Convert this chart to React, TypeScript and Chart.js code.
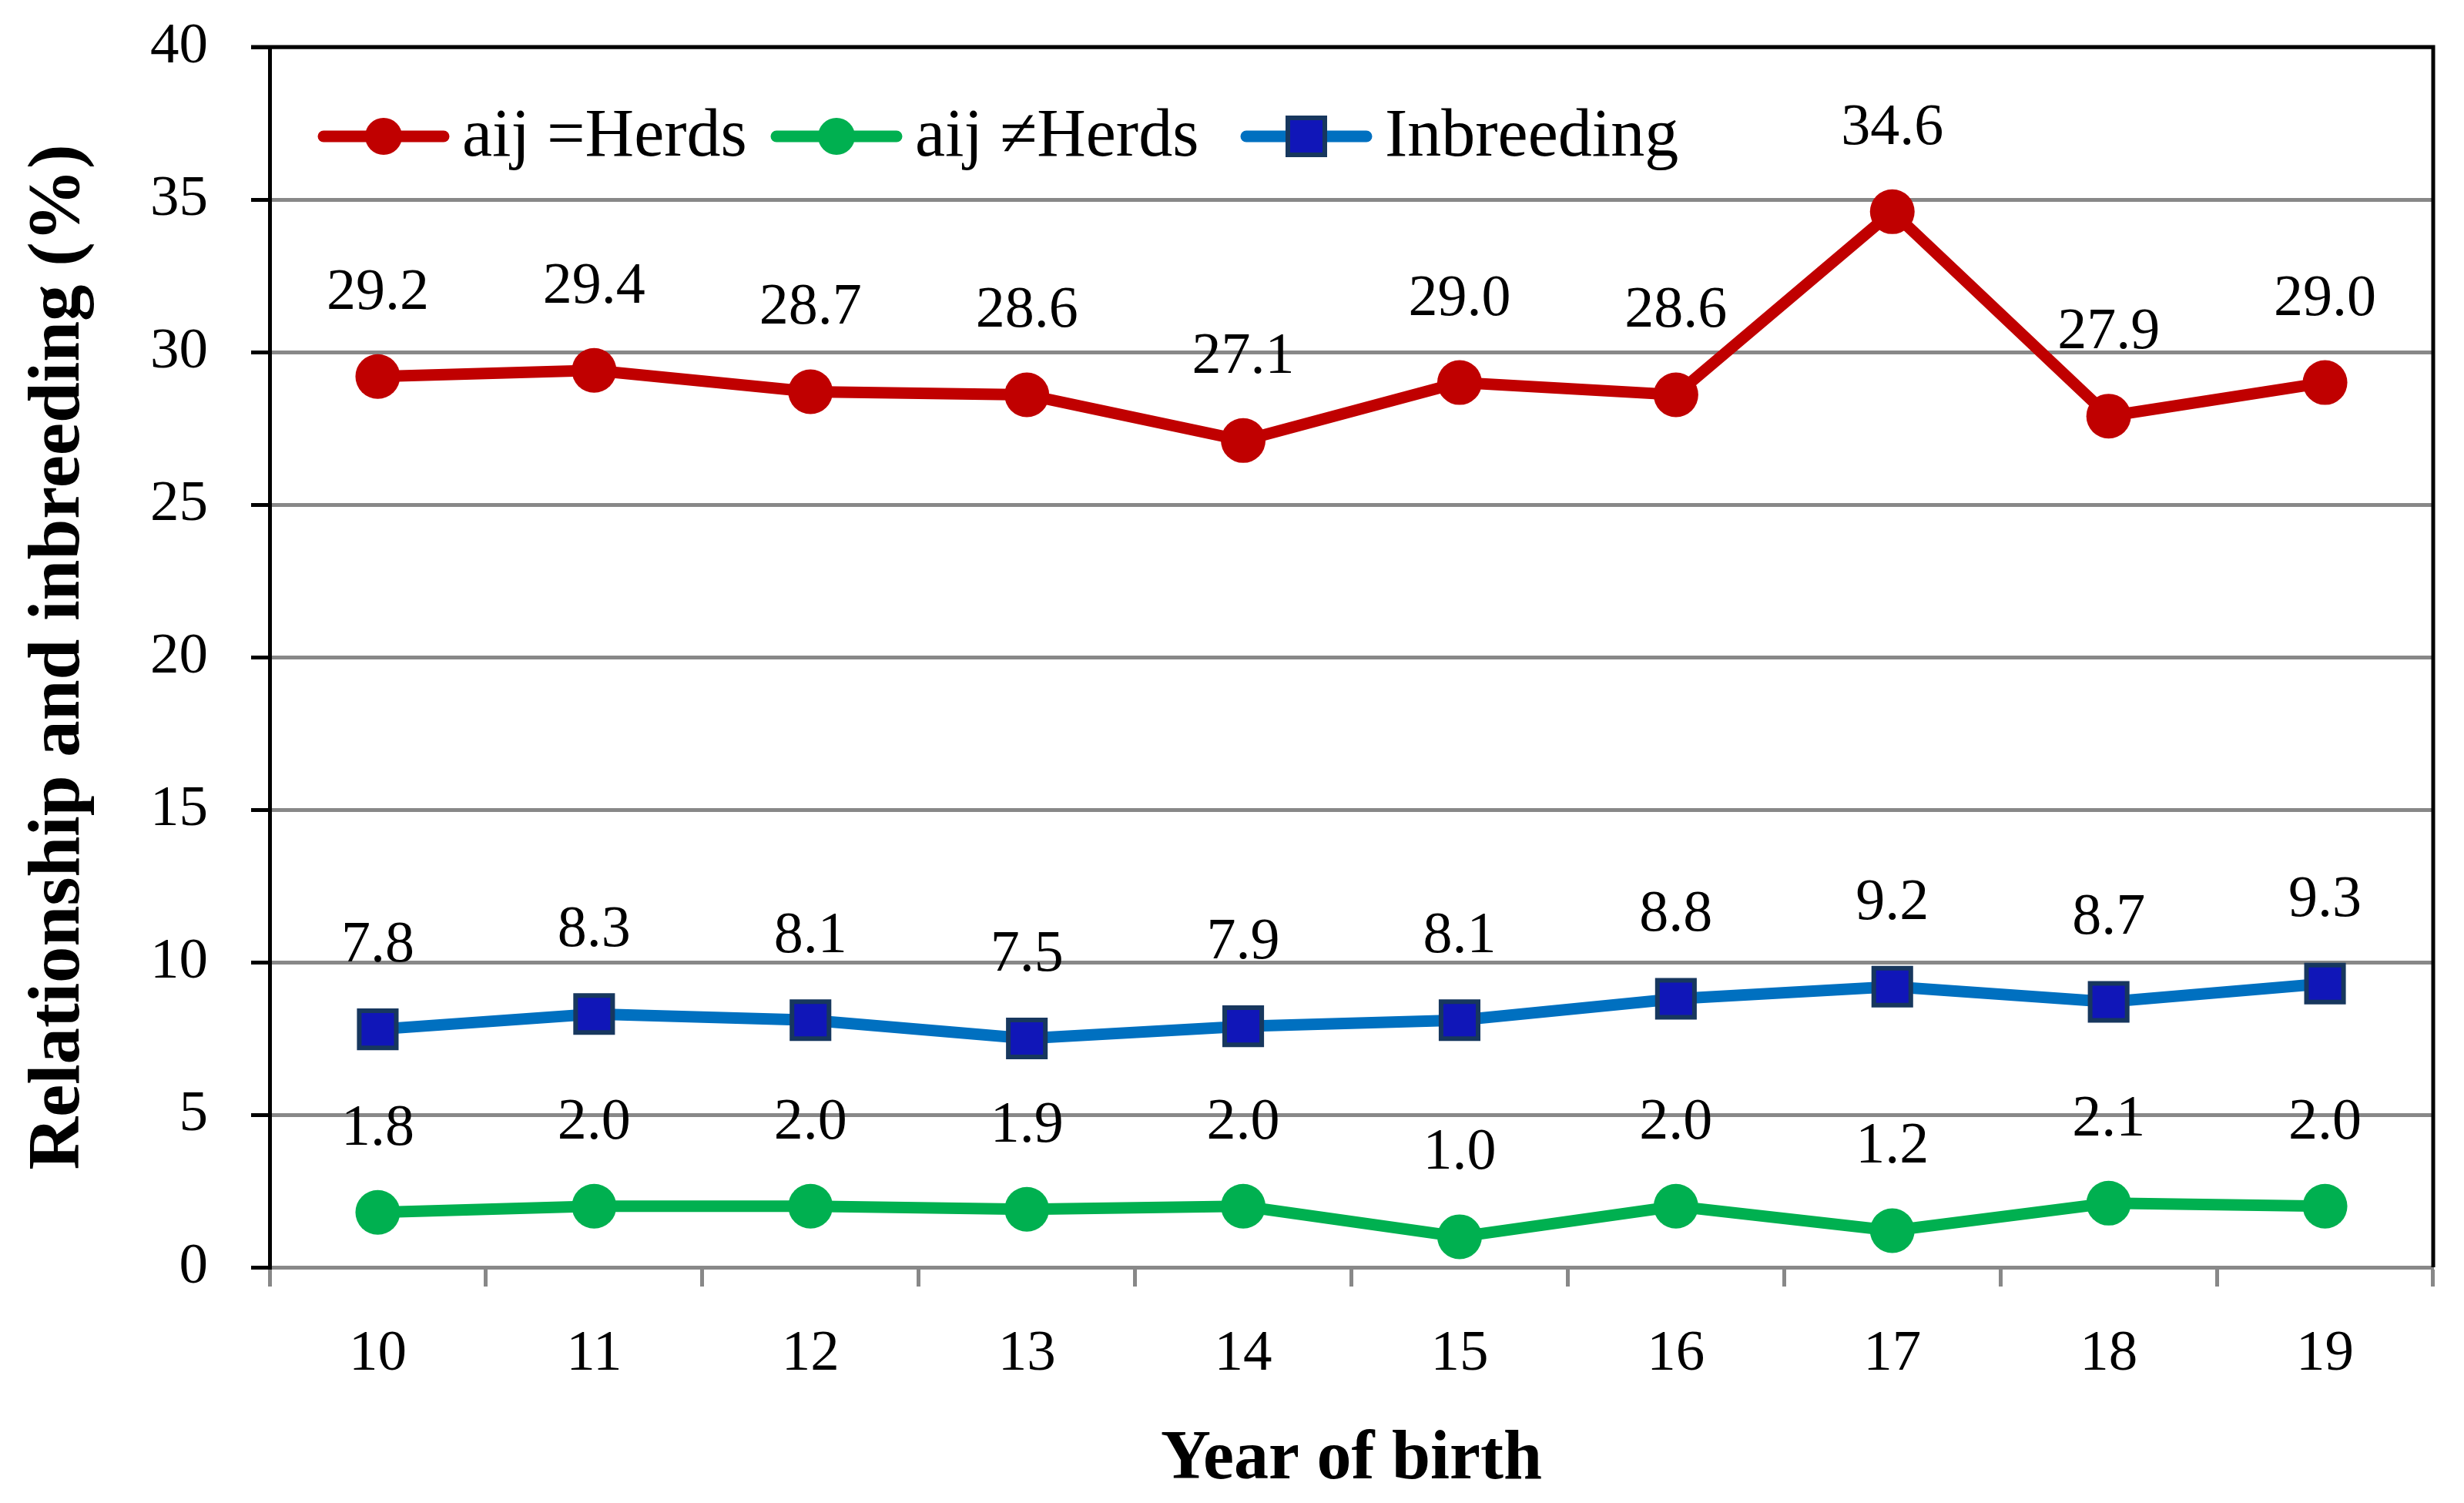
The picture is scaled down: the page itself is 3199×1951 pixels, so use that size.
import React, { useEffect, useRef } from "react";
import { Chart, registerables } from "chart.js";

Chart.register(...registerables);

const FONT = "'Liberation Serif', 'Times New Roman', serif";

const years = ["10", "11", "12", "13", "14", "15", "16", "17", "18", "19"];
const sameHerd = [29.2, 29.4, 28.7, 28.6, 27.1, 29.0, 28.6, 34.6, 27.9, 29.0];
const diffHerd = [1.8, 2.0, 2.0, 1.9, 2.0, 1.0, 2.0, 1.2, 2.1, 2.0];
const inbreeding = [7.8, 8.3, 8.1, 7.5, 7.9, 8.1, 8.8, 9.2, 8.7, 9.3];
const seriesNames = ["aij =Herds", "aij \u2260Herds", "Inbreeding"];
const yMin = 0;
const yMax = 40;
const yStep = 5;
const xTitle = "Year of birth";
const yTitle = "Relationship and inbreeding (%)";

const RED = "#C00000";
const GREEN = "#00B050";
const BLUE = "#0070C0";
const SQ_FILL = "#1016B8";
const SQ_BORDER = "#17375E";
const GRID = "#888888";

const framePlugin = {
  id: "frame",
  afterDraw(chart: any) {
    const { ctx, chartArea: a } = chart;
    ctx.save();
    ctx.strokeStyle = "#000";
    ctx.lineWidth = 5;
    ctx.beginPath();
    ctx.moveTo(a.left - 24, a.top);
    ctx.lineTo(a.right + 2.5, a.top);
    ctx.moveTo(a.right, a.top);
    ctx.lineTo(a.right, a.bottom);
    ctx.stroke();
    ctx.restore();
  },
};

const labelPlugin = {
  id: "valueLabels",
  afterDatasetsDraw(chart: any) {
    const { ctx } = chart;
    ctx.save();
    ctx.font = `76px ${FONT}`;
    ctx.fillStyle = "#000";
    ctx.textAlign = "center";
    ctx.textBaseline = "middle";
    chart.data.datasets.forEach((ds: any, i: number) => {
      const meta = chart.getDatasetMeta(i);
      meta.data.forEach((pt: any, j: number) => {
        ctx.fillText(Number(ds.data[j]).toFixed(1), pt.x, pt.y - 108);
      });
    });
    ctx.restore();
  },
};

const legendStarts = [62, 650, 1260];

const legendPlugin = {
  id: "insideLegend",
  afterDraw(chart: any) {
    const { ctx, chartArea: a } = chart;
    const y = a.top + 116;
    ctx.save();
    chart.data.datasets.forEach((ds: any, i: number) => {
      const x = a.left + legendStarts[i];
      ctx.strokeStyle = ds.borderColor;
      ctx.lineWidth = 15;
      ctx.lineCap = "round";
      ctx.beginPath();
      ctx.moveTo(x + 8, y);
      ctx.lineTo(x + 164, y);
      ctx.stroke();
      const cx = x + 86;
      if (ds.pointStyle === "rect") {
        ctx.fillStyle = ds.pointBackgroundColor;
        ctx.strokeStyle = ds.pointBorderColor;
        ctx.lineWidth = 6;
        ctx.beginPath();
        ctx.rect(cx - 24, y - 24, 48, 48);
        ctx.fill();
        ctx.stroke();
      } else {
        ctx.fillStyle = ds.pointBackgroundColor;
        ctx.beginPath();
        ctx.arc(cx, y, 24, 0, Math.PI * 2);
        ctx.fill();
      }
      ctx.fillStyle = "#000";
      ctx.font = `88px ${FONT}`;
      ctx.textAlign = "left";
      ctx.textBaseline = "alphabetic";
      ctx.fillText(ds.label, x + 188, y + 25);
    });
    ctx.restore();
  },
};

export default function App() {
  const canvasRef = useRef<HTMLCanvasElement | null>(null);

  useEffect(() => {
    if (!canvasRef.current) return;
    const chart = new Chart(canvasRef.current, {
      type: "line",
      data: {
        labels: years,
        datasets: [
          {
            label: seriesNames[0],
            data: sameHerd,
            borderColor: RED,
            backgroundColor: RED,
            pointBackgroundColor: RED,
            pointBorderColor: RED,
            borderWidth: 15,
            pointRadius: 29,
            pointBorderWidth: 0,
            pointStyle: "circle",
          },
          {
            label: seriesNames[1],
            data: diffHerd,
            borderColor: GREEN,
            backgroundColor: GREEN,
            pointBackgroundColor: GREEN,
            pointBorderColor: GREEN,
            borderWidth: 15,
            pointRadius: 29,
            pointBorderWidth: 0,
            pointStyle: "circle",
          },
          {
            label: seriesNames[2],
            data: inbreeding,
            borderColor: BLUE,
            backgroundColor: BLUE,
            pointBackgroundColor: SQ_FILL,
            pointBorderColor: SQ_BORDER,
            borderWidth: 15,
            pointRadius: 34,
            pointBorderWidth: 6,
            pointStyle: "rect",
          },
        ] as any,
      },
      options: {
        animation: false,
        responsive: true,
        maintainAspectRatio: false,
        layout: { padding: { left: 0, top: 61, right: 39, bottom: 0 } },
        plugins: {
          legend: { display: false },
          title: { display: false },
          tooltip: { enabled: false },
        },
        scales: {
          x: {
            offset: true,
            afterFit: (s: any) => {
              s.height = 306;
              s.paddingTop = 0;
              s.paddingBottom = 0;
              s.paddingLeft = 0;
              s.paddingRight = 0;
            },
            grid: {
              display: true,
              offset: true,
              drawOnChartArea: false,
              drawTicks: true,
              tickLength: 25,
              tickWidth: 5,
              tickColor: GRID,
              color: GRID,
            },
            border: { display: true, color: GRID, width: 5 },
            ticks: {
              color: "#000",
              font: { family: FONT, size: 75 },
              padding: 43,
              maxRotation: 0,
              autoSkip: false,
            },
            title: {
              display: true,
              text: xTitle,
              color: "#000",
              font: { family: FONT, size: 90, weight: "bold" },
              padding: { top: 0, bottom: 1 },
            },
          },
          y: {
            min: yMin,
            max: yMax,
            afterFit: (s: any) => {
              s.width = 350;
              s.paddingTop = 0;
              s.paddingBottom = 0;
              s.paddingLeft = 0;
              s.paddingRight = 0;
            },
            grid: {
              color: GRID,
              lineWidth: 5,
              drawTicks: true,
              tickLength: 24,
              tickWidth: 5,
              tickColor: "#000",
            },
            border: { display: true, color: "#000", width: 5 },
            ticks: {
              stepSize: yStep,
              color: "#000",
              font: { family: FONT, size: 75 },
              padding: 56,
            },
            title: {
              display: true,
              text: yTitle,
              color: "#000",
              font: { family: FONT, size: 95, weight: "bold" },
              padding: { top: 20, bottom: 0 },
            },
          },
        },
      } as any,
      plugins: [framePlugin, labelPlugin, legendPlugin],
    });
    return () => chart.destroy();
  }, []);

  return (
    <div
      style={{
        position: "fixed",
        left: 0,
        top: 0,
        width: "3199px",
        height: "1951px",
        background: "#fff",
      }}
    >
      <canvas ref={canvasRef} />
    </div>
  );
}
